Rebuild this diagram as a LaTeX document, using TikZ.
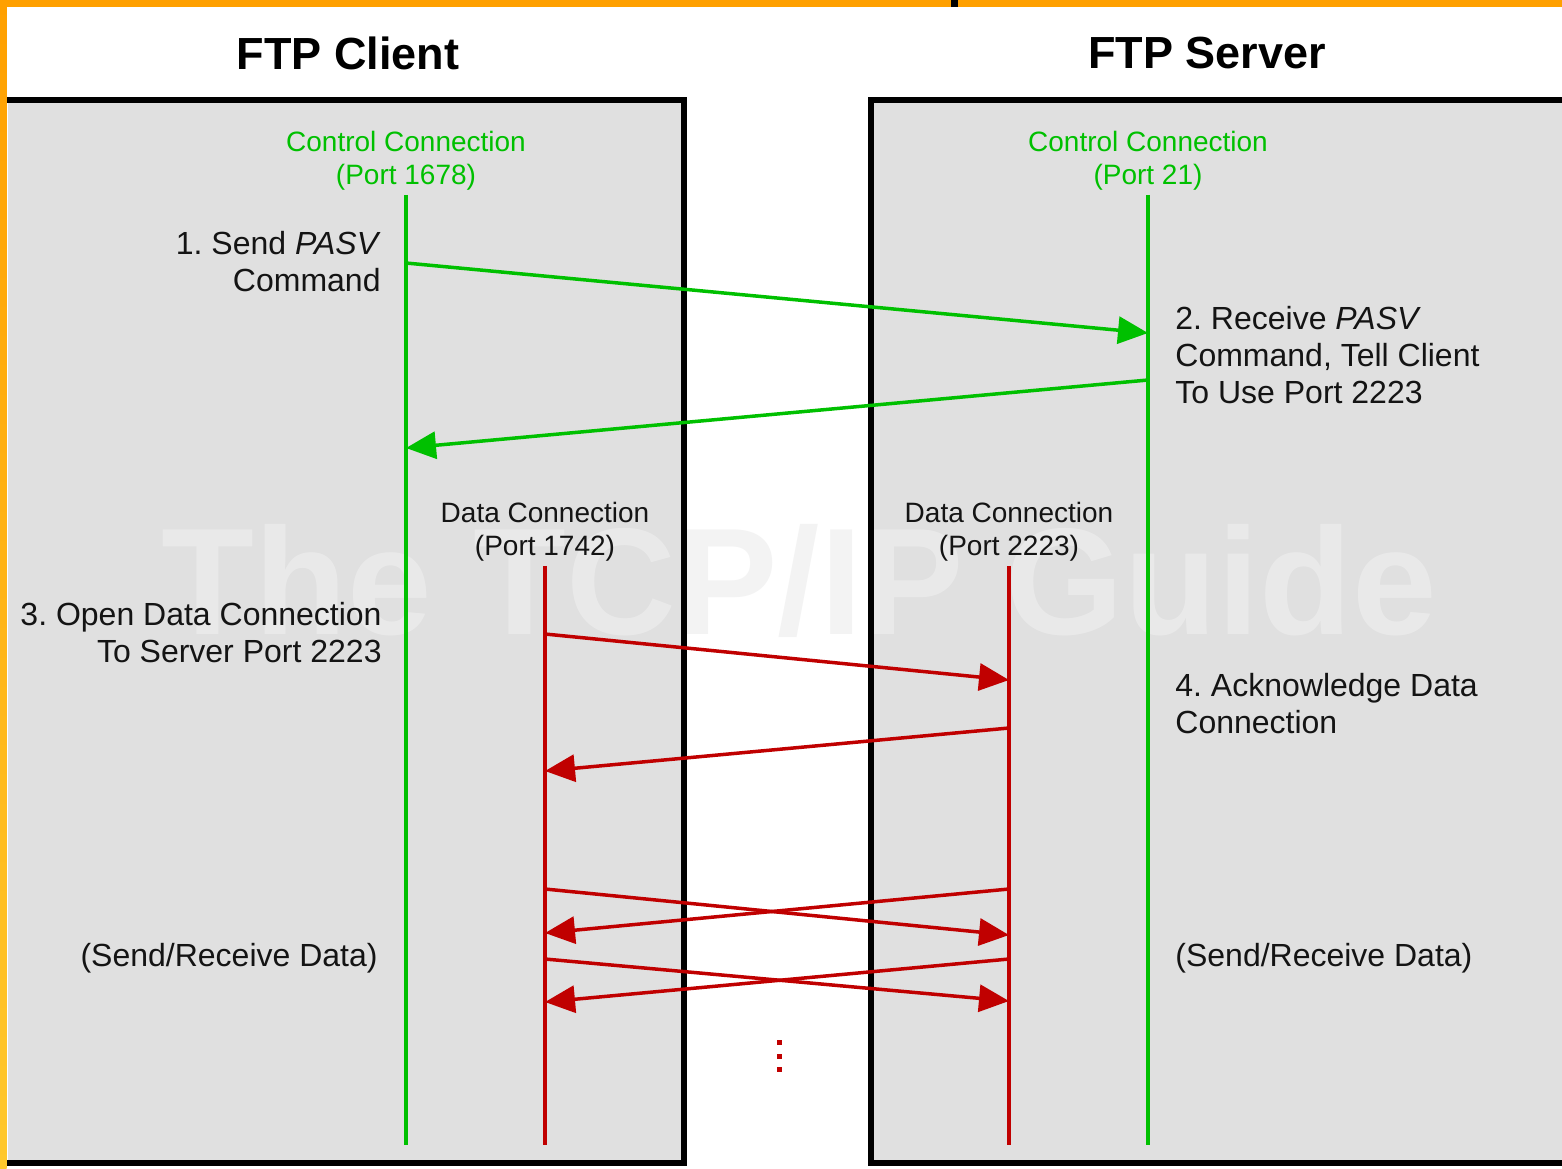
\documentclass[tikz,border=0pt]{standalone}
\usepackage{fontspec}
\setmainfont{Liberation Sans}
\frenchspacing
\usetikzlibrary{arrows.meta, positioning}
\definecolor{ctlgreen}{RGB}{0,192,0}
\definecolor{datred}{RGB}{192,0,0}
\definecolor{boxgray}{RGB}{224,224,224}
\definecolor{wmgray}{RGB}{238,238,238}
\definecolor{frameorange}{RGB}{255,160,0}
\definecolor{frameyellow}{RGB}{255,200,44}
\tikzset{
    x=0.5pt, y=-0.5pt, % one unit is one pixel of the drawing, y runs downwards
    >={Triangle[length=15pt, width=13.5pt]}, % solid arrow heads
    rim/.style={draw=black, line width=2.75pt}, % the black edges of the two boxes
    title/.style={font=\fontsize{22.5}{27}\selectfont\bfseries, inner sep=0pt}, % box headings
    txt/.style={font=\fontsize{16}{18.5}\selectfont, inner sep=0pt, text=black!92}, % step texts
    port/.style={font=\fontsize{14}{16.5}\selectfont, align=center, inner sep=0pt}, % texts over the lines
    ctlline/.style={draw=ctlgreen, line width=2.25pt}, % control connection line
    datline/.style={draw=datred, line width=2.25pt}, % data connection line
    ctlmsg/.style={->, draw=ctlgreen, line width=1.75pt}, % control message
    datmsg/.style={->, draw=datred, line width=1.75pt}, % data message
}
\begin{document}
\begin{tikzpicture}
    \useasboundingbox (0,0) rectangle (1562,1168);
    \fill[white] (0,0) rectangle (1562,1168);
    \fill[boxgray] (8,100) rectangle (684,1163);
    \fill[boxgray] (871,100) rectangle (1570,1163);
    \node[font=\fontsize{76}{80}\selectfont\bfseries, text=wmgray, text opacity=0.7, inner sep=0pt] (wmark) at (799,581) {The TCP/IP Guide};
    \draw[rim] (3,100) -- (684,100) -- (684,1163) -- (3,1163);
    \draw[rim] (1570,100) -- (871,100) -- (871,1163) -- (1570,1163);
    \fill[top color=frameorange, bottom color=frameyellow] (0,0) rectangle (6.5,1168);
    \fill[frameorange] (0,0) rectangle (1562,7);
    \fill[black] (951,0) rectangle (958,7);

    \node[title] (client) at (348,53) {FTP Client};
    \node[title] (server) at (1207,53) {FTP Server};

    \node[port, text=ctlgreen] (cctl) at (406,161) {Control Connection\\(Port 1678)};
    \node[port, text=ctlgreen] (sctl) at (1148,161) {Control Connection\\(Port 21)};
    \node[port, text=black!92] (cdat) at (545,532) {Data Connection\\(Port 1742)};
    \node[port, text=black!92] (sdat) at (1009,532) {Data Connection\\(Port 2223)};

    \coordinate (cctlend) at (406,1145);
    \coordinate (sctlend) at (1148,1145);
    \coordinate (cdatend) at (545,1145);
    \coordinate (sdatend) at (1009,1145);
    \draw[ctlline] ([yshift=-2pt]cctl.south) -- (cctlend);
    \draw[ctlline] ([yshift=-2pt]sctl.south) -- (sctlend);
    \draw[datline] ([yshift=-2pt]cdat.south) -- (cdatend);
    \draw[datline] ([yshift=-2pt]sdat.south) -- (sdatend);

    \coordinate (pasv) at (406,263);
    \coordinate (pasvin) at (1148,333);
    \coordinate (reply) at (1148,380);
    \coordinate (replyin) at (406,448);
    \draw[ctlmsg] (pasv) -- (pasvin);
    \draw[ctlmsg] (reply) -- (replyin);

    \coordinate (open) at (545,634);
    \coordinate (openin) at (1009,680);
    \coordinate (ack) at (1009,728);
    \coordinate (ackin) at (545,771);
    \draw[datmsg] (open) -- (openin);
    \draw[datmsg] (ack) -- (ackin);

    \coordinate (csend1) at (545,889);
    \coordinate (srecv1) at (1009,935);
    \coordinate (ssend1) at (1009,889);
    \coordinate (crecv1) at (545,933);
    \coordinate (csend2) at (545,959);
    \coordinate (srecv2) at (1009,1001);
    \coordinate (ssend2) at (1009,959);
    \coordinate (crecv2) at (545,1002);
    \draw[datmsg] (csend1) -- (srecv1);
    \draw[datmsg] (ssend1) -- (crecv1);
    \draw[datmsg] (csend2) -- (srecv2);
    \draw[datmsg] (ssend2) -- (crecv2);
    \foreach \y in {1042,1056,1069}
        \fill[datred] (777,\y-2.5) rectangle (782,\y+2.5);

    \node[txt, align=right, anchor=east] (step1) at (381,262) {1. Send \textit{PASV}\\Command};
    \node[txt, align=left, anchor=west] (step2) at (1175,355) {2. Receive \textit{PASV}\\Command, Tell Client\\To Use Port 2223};
    \node[txt, align=right, anchor=east] (step3) at (382,633) {3. Open Data Connection\\To Server Port 2223};
    \node[txt, align=left, anchor=west] (step4) at (1175,704) {4. Acknowledge Data\\Connection};
    \node[txt, anchor=east] (cxfer) at (378,958) {(Send/Receive Data)};
    \node[txt, anchor=west] (sxfer) at (1175,958) {(Send/Receive Data)};
\end{tikzpicture}
\end{document}
